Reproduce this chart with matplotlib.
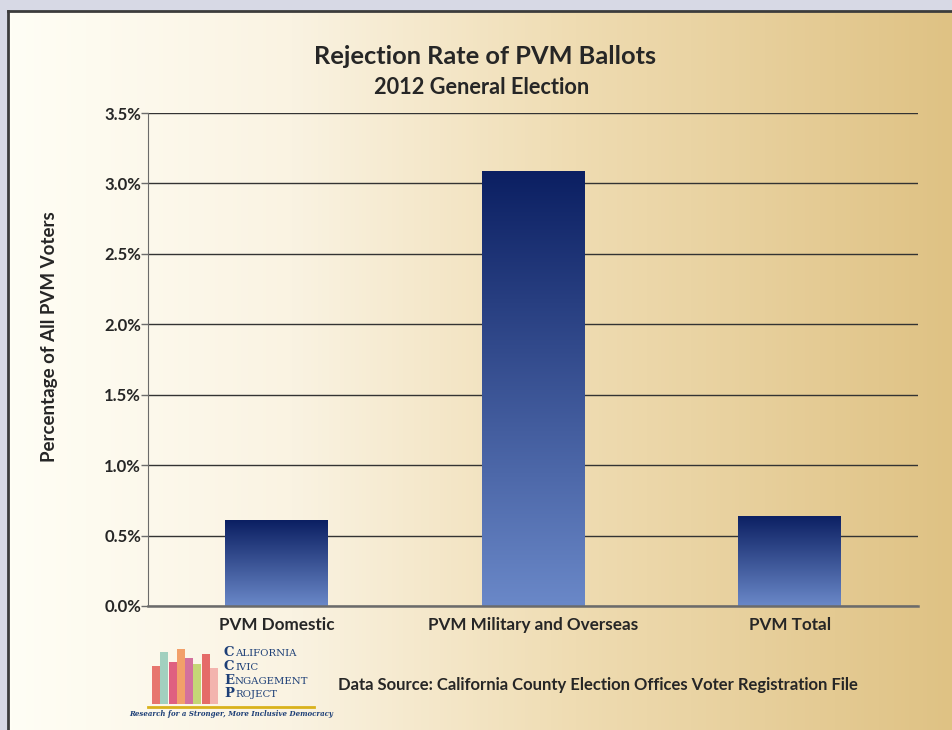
import numpy as np
import matplotlib.pyplot as plt
from matplotlib.colors import LinearSegmentedColormap
from matplotlib.patches import Rectangle
from matplotlib.lines import Line2D

categories = ['PVM Domestic', 'PVM Military and Overseas', 'PVM Total']
rates = [0.61, 3.09, 0.64]
yticks = [0.0, 0.5, 1.0, 1.5, 2.0, 2.5, 3.0, 3.5]

title = 'Rejection Rate of PVM Ballots'
subtitle = '2012 General Election'
ylabel = 'Percentage of All PVM Voters'
source = 'Data Source: California County Election Offices Voter Registration File'

plt.rcParams['font.family'] = ['Lato', 'DejaVu Sans']
txt = '#262626'

W, H = 953, 730
fig = plt.figure(figsize=(W / 100, H / 100), dpi=100)
fig.patch.set_facecolor('#d7d9e5')

# panel background with horizontal gradient
px0, py1 = 8 / W, 1 - 11 / H
bg = fig.add_axes([px0, 0, 1 - px0, py1], zorder=-5)
bg_cmap = LinearSegmentedColormap.from_list(
    'bg', [(0, '#fffef5'), (0.3, '#faf3e2'), (0.6, '#efdcb2'), (1, '#dfc284')])
bg.imshow(np.linspace(0, 1, 256)[None, :], cmap=bg_cmap, aspect='auto',
          extent=[0, 1, 0, 1])
bg.set_xlim(0, 1)
bg.set_ylim(0, 1)
bg.axis('off')
fig.add_artist(Line2D([px0, px0], [0, py1], color='#3c3c3c', lw=2,
                      transform=fig.transFigure))
fig.add_artist(Line2D([px0, 1], [py1, py1], color='#3c3c3c', lw=2,
                      transform=fig.transFigure))

ax = fig.add_axes([148 / W, 1 - 606 / H, 770 / W, 493 / H])
ax.set_facecolor('none')

bar_cmap = LinearSegmentedColormap.from_list('bar', ['#6a88c8', '#0b1f62'])
x = np.arange(len(categories))
width = 0.4
grad = np.linspace(0, 1, 256)[:, None]
for xi, v in zip(x, rates):
    r = Rectangle((xi - width / 2, 0), width, v, facecolor='none',
                  edgecolor='none', zorder=3)
    ax.add_patch(r)
    im = ax.imshow(grad, cmap=bar_cmap, origin='lower', aspect='auto',
                   extent=[xi - width / 2, xi + width / 2, 0, v], zorder=3)
    im.set_clip_path(r)

ax.set_xlim(-0.5, len(categories) - 0.5)
ax.set_ylim(0, 3.5)
ax.set_yticks(yticks)
ax.set_yticklabels([f'{t:.1f}%' for t in yticks], fontsize=12,
                   fontweight='bold', color=txt)
ax.set_xticks(x)
ax.set_xticklabels(categories, fontsize=12.3, fontweight='bold', color=txt)
ax.tick_params(axis='x', length=0, pad=8)
ax.tick_params(axis='y', length=5, width=1, color='#6b6b6b', pad=0)
ax.grid(axis='y', color='#333333', lw=1, zorder=1)
ax.set_axisbelow(True)
for s in ['top', 'right']:
    ax.spines[s].set_visible(False)
ax.spines['left'].set_color('#6b6b6b')
ax.spines['bottom'].set_color('#6b6b6b')
ax.spines['bottom'].set_linewidth(1.8)
ax.spines['bottom'].set_zorder(4)

fig.text(50 / W, 1 - 337 / H, ylabel, rotation=90, ha='center', va='center',
         fontsize=13.5, fontweight='bold', color=txt)
fig.text(485 / W, 1 - 57 / H, title, ha='center', va='center',
         fontsize=18.3, fontweight='bold', color=txt)
fig.text(482 / W, 1 - 88 / H, subtitle, ha='center', va='center',
         fontsize=15.7, fontweight='bold', color=txt)
fig.text(598 / W, 1 - 685 / H, source, ha='center', va='center',
         fontsize=12, fontweight='bold', color=txt)

# logo, approximated
hand_colors = ['#e2554f', '#8cc7b5', '#d83a66', '#f08a4b', '#c94f8a',
               '#b8cf5a', '#e04848', '#f2a4a0']
hx = [152, 160, 169, 177, 185, 193, 202, 210]
hh = [38, 52, 42, 55, 46, 40, 50, 36]
for c, xx, hv in zip(hand_colors, hx, hh):
    fig.add_artist(Rectangle((xx / W, 1 - 704 / H), 8 / W, hv / H,
                             facecolor=c, alpha=0.8, edgecolor='none',
                             transform=fig.transFigure))
logo_lines = ['CALIFORNIA', 'CIVIC', 'ENGAGEMENT', 'PROJECT']
for i, s in enumerate(logo_lines):
    fig.text(224 / W, 1 - (653 + i * 13.5) / H, s[0], fontsize=9.5,
             family='DejaVu Serif', color='#1d3f77', fontweight='bold',
             va='center')
    fig.text(235 / W, 1 - (654 + i * 13.5) / H, s[1:], fontsize=7.3,
             family='DejaVu Serif', color='#1d3f77', va='center')
fig.add_artist(Line2D([148 / W, 314 / W], [1 - 707 / H, 1 - 707 / H],
                      color='#d9b21c', lw=2, transform=fig.transFigure))
fig.text(231 / W, 1 - 714 / H,
         'Research for a Stronger, More Inclusive Democracy',
         ha='center', va='center', fontsize=5, style='italic',
         family='DejaVu Serif', color='#1d3f77', fontweight='bold')

fig.savefig('out.png', dpi=100)
